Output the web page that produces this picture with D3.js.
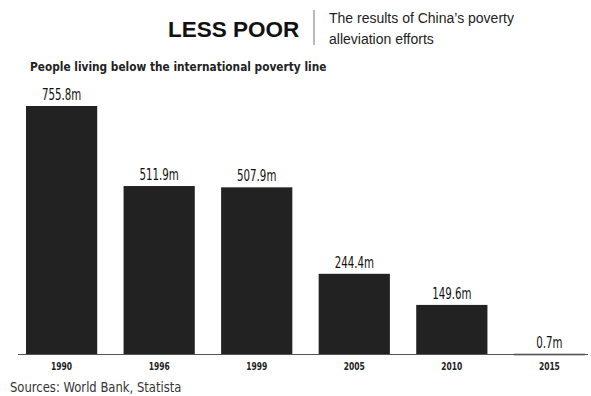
<!DOCTYPE html>
<html>
<head>
<meta charset="utf-8">
<script src="https://cdn.jsdelivr.net/npm/d3@7"></script>
<style>
  body { margin: 0; background: #fff; }
</style>
</head>
<body>
<script>
// данные
var years = ["1990", "1996", "1999", "2005", "2010", "2015"];
var people = [755.8, 511.9, 507.9, 244.4, 149.6, 0.7];
var valueLabels = ["755.8m", "511.9m", "507.9m", "244.4m", "149.6m", "0.7m"];

var width = 591, height = 396;
var baseY = 354;
var COND = "DejaVu Sans, sans-serif";

var svg = d3.select("body").append("svg")
    .attr("width", width)
    .attr("height", height);

// Узкий шрифт: сжимаем по горизонтали
function condensed(parent, sx) {
    return parent.append("g").attr("transform", "scale(" + sx + ",1)");
}

// Заголовок
svg.append("text")
    .attr("x", 168).attr("y", 37)
    .attr("font-family", "Liberation Sans, Arial, sans-serif")
    .attr("font-weight", "bold")
    .attr("font-size", 22.5)
    .attr("fill", "#111")
    .text("LESS POOR");

svg.append("line")
    .attr("x1", 314).attr("x2", 314)
    .attr("y1", 10).attr("y2", 45)
    .attr("stroke", "#777").attr("stroke-width", 1);

var sub = svg.append("text")
    .attr("font-family", "Liberation Sans, Arial, sans-serif")
    .attr("font-size", 14)
    .attr("fill", "#222");
sub.append("tspan").attr("x", 329).attr("y", 23).text("The results of China\u2019s poverty");
sub.append("tspan").attr("x", 329).attr("y", 44).text("alleviation efforts");

var sx1 = 0.815;
condensed(svg, sx1).append("text")
    .attr("x", 30 / sx1).attr("y", 71)
    .attr("font-family", COND)
    .attr("font-weight", "bold")
    .attr("font-size", 13)
    .attr("fill", "#222")
    .text("People living below the international poverty line");

// Шкалы
var x = d3.scaleBand()
    .domain(years)
    .range([26, 585])
    .paddingInner(0.27)
    .paddingOuter(0);

var y = d3.scaleLinear()
    .domain([0, 755.8])
    .range([baseY, 106]);

// Столбцы
svg.selectAll(".bar")
    .data(people)
    .join("rect")
    .attr("class", "bar")
    .attr("x", (d, i) => x(years[i]))
    .attr("y", d => y(d))
    .attr("width", x.bandwidth())
    .attr("height", d => Math.max(1.5, baseY - y(d)))
    .attr("fill", "#222");

// Подписи значений
var sx2 = 0.64;
condensed(svg, sx2).selectAll(".val")
    .data(people)
    .join("text")
    .attr("class", "val")
    .attr("x", (d, i) => (x(years[i]) + x.bandwidth() / 2) / sx2)
    .attr("y", d => y(d) - 6)
    .attr("text-anchor", "middle")
    .attr("font-family", COND)
    .attr("font-size", 16)
    .attr("fill", "#111")
    .text((d, i) => valueLabels[i]);

// Ось (подписи годов)
var sx3 = 0.72;
condensed(svg, sx3).selectAll(".year")
    .data(years)
    .join("text")
    .attr("class", "year")
    .attr("x", d => (x(d) + x.bandwidth() / 2) / sx3)
    .attr("y", 370)
    .attr("text-anchor", "middle")
    .attr("font-family", COND)
    .attr("font-size", 10.5)
    .attr("font-weight", "bold")
    .attr("fill", "#222")
    .text(d => d);

svg.append("line")
    .attr("x1", 18).attr("x2", 588)
    .attr("y1", baseY + 0.5).attr("y2", baseY + 0.5)
    .attr("stroke", "#555").attr("stroke-width", 1);

var sx4 = 0.86;
condensed(svg, sx4).append("text")
    .attr("x", 10 / sx4).attr("y", 392)
    .attr("font-family", COND)
    .attr("font-size", 13.5)
    .attr("fill", "#333")
    .text("Sources: World Bank, Statista");
</script>
</body>
</html>
